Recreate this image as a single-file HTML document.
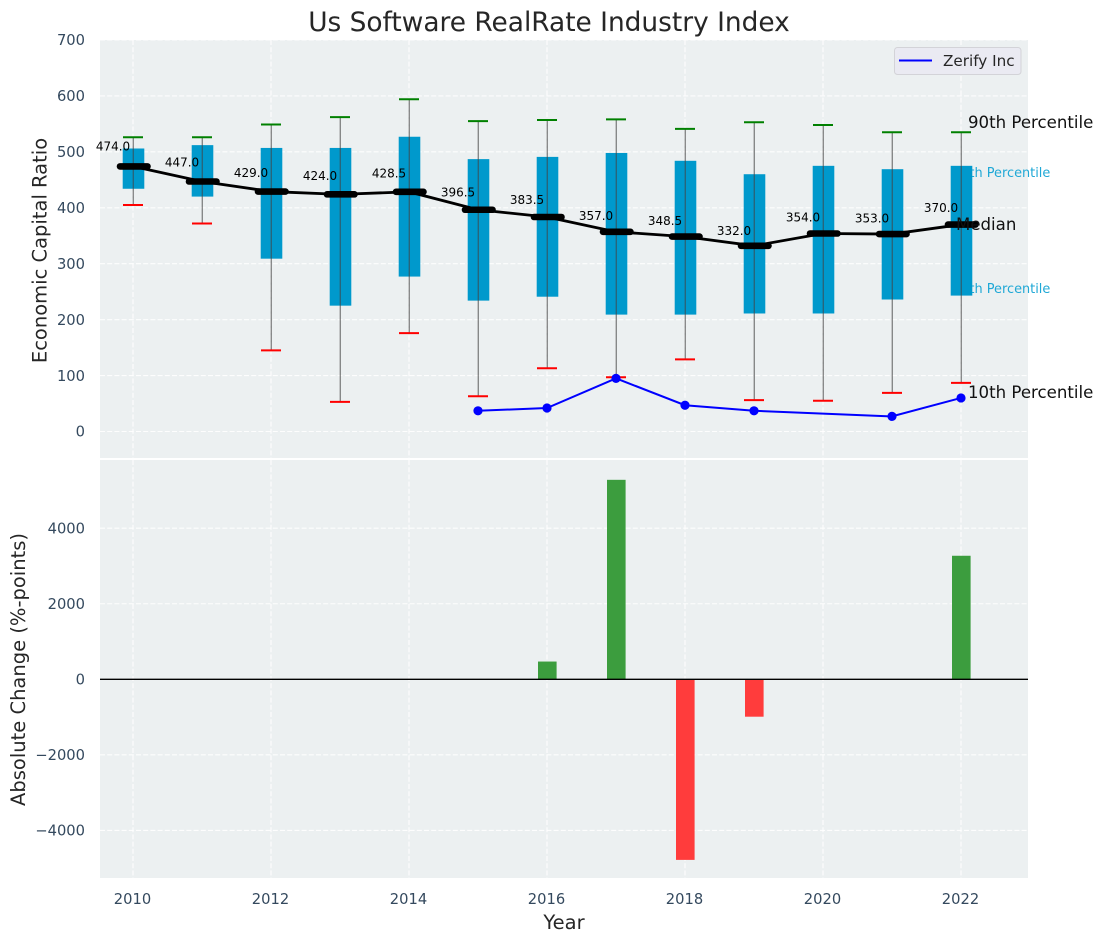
<!DOCTYPE html>
<html>
<head>
<meta charset="utf-8">
<title>Us Software RealRate Industry Index</title>
<style>
html,body{margin:0;padding:0;background:#fff;width:1103px;height:942px;overflow:hidden}
svg{display:block}
text{font-family:"DejaVu Sans","Liberation Sans",sans-serif}
</style>
</head>
<body>
<svg id="chart" xmlns="http://www.w3.org/2000/svg" width="1103" height="942" viewBox="0 0 1103 942">
  <rect x="100" y="40" width="928" height="418" fill="#ecf0f1"/>
  <rect x="100" y="460" width="928" height="418" fill="#ecf0f1"/>
  <g id="grid"></g>
  <g id="behind"></g>
  <g id="marks"></g>
  <g id="axes"></g>
  <text x="549" y="31" text-anchor="middle" font-size="26.4" fill="#262626">Us Software RealRate Industry Index</text>
  <text transform="translate(46.5 250.5) rotate(-90)" text-anchor="middle" font-size="19.5" fill="#262626">Economic Capital Ratio</text>
  <text transform="translate(25 669.5) rotate(-90)" text-anchor="middle" font-size="19.5" fill="#262626">Absolute Change (%-points)</text>
  <text x="564" y="929" text-anchor="middle" font-size="19.5" fill="#262626">Year</text>
  <g>
    <rect x="894.5" y="47.5" width="126.5" height="27" rx="3" fill="#eaeaf2" stroke="#d3d3d8"/>
    <line x1="899" x2="932" y1="60.5" y2="60.5" stroke="#0000ff" stroke-width="2"/>
    <text x="943" y="66" font-size="15.2" fill="#262626">Zerify Inc</text>
  </g>
  <text x="968" y="128" font-size="16.6" fill="#111">90th Percentile</text>
  <text x="956" y="230" font-size="16.6" fill="#111">Median</text>
  <text x="968" y="398" font-size="16.6" fill="#111">10th Percentile</text>
</svg>
<script>
var years = [2010,2011,2012,2013,2014,2015,2016,2017,2018,2019,2020,2021,2022];
var p90 = [526,526,549,562,594,555,557,558,541,553,548,535,535];
var p75 = [506,512,507,507,527,487,491,498,484,460,475,469,475];
var median = [474,447,429,424,428.5,396.5,383.5,357,348.5,332,354,353,370];
var p25 = [434,420,309,225,277,234,241,209,209,211,211,236,243];
var p10 = [405,372,145,53,176,63,113,97,129,56,55,69,87];
var medianLabels = ["474.0","447.0","429.0","424.0","428.5","396.5","383.5","357.0","348.5","332.0","354.0","353.0","370.0"];
var zerifyYears = [2015,2016,2017,2018,2019,2021,2022];
var zerifyValues = [37,42,95,47,37,27,60];
var changeYears = [2016,2017,2018,2019,2022];
var changeValues = [470,5280,-4780,-990,3270];
var xTicks = [2010,2012,2014,2016,2018,2020,2022];
var topTicks = [0,100,200,300,400,500,600,700];
var bottomTicks = [-4000,-2000,0,2000,4000];

function xScale(v){ return 133 + (v - 2010) * 69; }
function yTop(v){ return 431.5 - v * 0.5593; }
function yBottom(v){ return 679.3 - v * 0.03778; }

var NS = 'http://www.w3.org/2000/svg';
function make(parent, tag, props, content){
  var el = document.createElementNS(NS, tag);
  for (var k in props) el.setAttribute(k, props[k]);
  if (content !== undefined) el.textContent = content;
  document.getElementById(parent).appendChild(el);
  return el;
}
function fmt(v){ return v < 0 ? '\u2212' + Math.abs(v) : String(v); }

topTicks.forEach(function(t){
  var el = make('grid','line',{x1:100,x2:1028,y1:yTop(t),y2:yTop(t),stroke:'#fff','stroke-width':1.1,'stroke-dasharray':'5 2.2',opacity:.9});
  
  
  var lab = make('axes','text',{x:85,y:yTop(t)+5.2,'text-anchor':'end','font-size':14.7,fill:'#34495e'},fmt(t));
  
  
});
bottomTicks.forEach(function(t){
  var el = make('grid','line',{x1:100,x2:1028,y1:yBottom(t),y2:yBottom(t),stroke:'#fff','stroke-width':1.1,'stroke-dasharray':'5 2.2',opacity:.9});
  
  
  var lab = make('axes','text',{x:85,y:yBottom(t)+5.2,'text-anchor':'end','font-size':14.7,fill:'#34495e'},fmt(t));
  
  
});
xTicks.forEach(function(t){
  var a = make('grid','line',{x1:xScale(t),x2:xScale(t),y1:40,y2:458,stroke:'#fff','stroke-width':1.1,'stroke-dasharray':'5 2.2',opacity:.9});
  
  
  var b = make('grid','line',{x1:xScale(t),x2:xScale(t),y1:460,y2:878,stroke:'#fff','stroke-width':1.1,'stroke-dasharray':'5 2.2',opacity:.9});
  
  
  var lab = make('axes','text',{x:xScale(t)-0.5,y:904,'text-anchor':'middle','font-size':14.7,fill:'#34495e'},String(t));
  
  
});

var l75 = make('behind','text',{x:953,y:177,'font-size':12.9,fill:'#1fa8d6'},'75th Percentile');


var l25 = make('behind','text',{x:953,y:293,'font-size':12.9,fill:'#1fa8d6'},'25th Percentile');



years.forEach(function(y,i){
  var x = xScale(y);
  var box = make('marks','rect',{x:x-10.3,y:yTop(p75[i]),width:21.6,height:yTop(p25[i])-yTop(p75[i]),fill:'#0099cc'});
  
  
  var w = make('marks','line',{x1:x+.3,x2:x+.3,y1:yTop(p90[i]),y2:yTop(p10[i]),stroke:'#444','stroke-width':1.4,opacity:.6});
  
  
  var capHi = make('marks','line',{x1:x-10,x2:x+10,y1:yTop(p90[i]),y2:yTop(p90[i]),stroke:'#008000','stroke-width':2});
  
  
  var capLo = make('marks','line',{x1:x-10,x2:x+10,y1:yTop(p10[i]),y2:yTop(p10[i]),stroke:'#ff0000','stroke-width':2});
  
  
});

var medianPath = make('marks','polyline',{fill:'none',stroke:'#000','stroke-width':2.8,points:years.map(function(y,i){return xScale(y)+','+yTop(median[i]);}).join(' ')});


years.forEach(function(y,i){
  var x = xScale(y);
  var m = make('marks','line',{x1:x-13,x2:x+14.5,y1:yTop(median[i]),y2:yTop(median[i]),stroke:'#000','stroke-width':6.6,'stroke-linecap':'round'});
  
  
  var t = make('marks','text',{x:x-20,y:yTop(median[i])-16+(474-median[i])*0.035,'text-anchor':'middle','font-size':12,fill:'#000'},medianLabels[i]);
  
  
});

var zLine = make('marks','polyline',{fill:'none',stroke:'#0000ff','stroke-width':2,points:zerifyYears.map(function(y,i){return xScale(y)+','+yTop(zerifyValues[i]);}).join(' ')});


zerifyYears.forEach(function(y,i){
  var c = make('marks','circle',{cx:xScale(y),cy:yTop(zerifyValues[i]),r:4.6,fill:'#0000ff'});
  
  
});

changeYears.forEach(function(y,i){
  var v = changeValues[i];
  var top = Math.min(yBottom(v), yBottom(0));
  var h = Math.abs(yBottom(v) - yBottom(0));
  var b = make('marks','rect',{x:xScale(y)-9,y:top,width:18.6,height:h,fill:v >= 0 ? '#3c9d3e' : '#ff3c3c'});
  
  
});
var zero = make('marks','line',{x1:100,x2:1028,y1:yBottom(0),y2:yBottom(0),stroke:'#000','stroke-width':1.4});


</script>
</body>
</html>
